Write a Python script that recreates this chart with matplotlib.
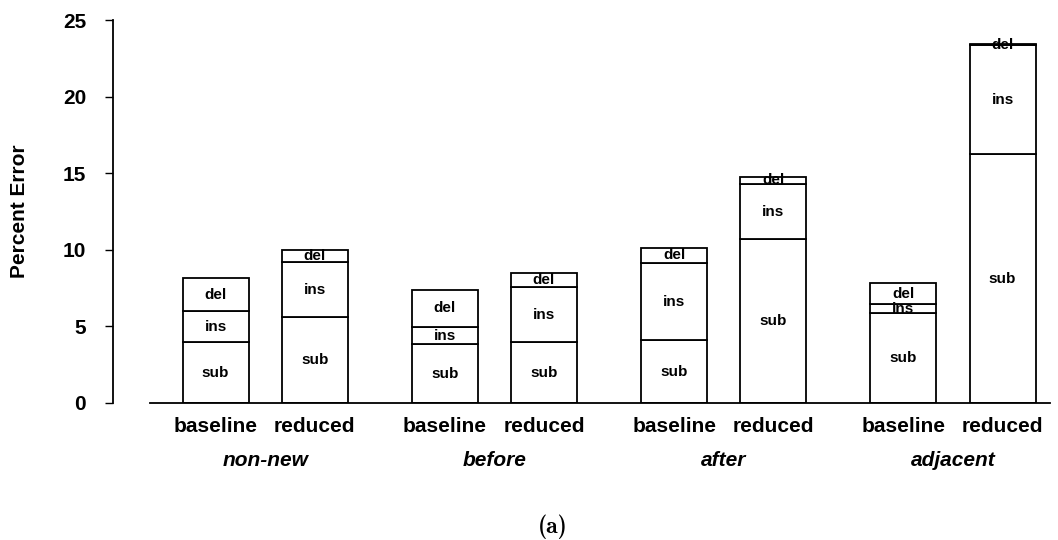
import numpy as np
import matplotlib
matplotlib.use("Agg")
import matplotlib.pyplot as plt
import matplotlib.transforms as mtransforms

plt.rcParams['font.family'] = ['Liberation Sans', 'DejaVu Sans']

# --- data ---
groups = ['non-new', 'before', 'after', 'adjacent']
systems = ['baseline', 'reduced']
segments = ['sub', 'ins', 'del']

sub_base = [3.95, 3.85, 4.10, 5.85]
ins_base = [2.05, 1.10, 5.05, 0.62]
del_base = [2.15, 2.45, 1.00, 1.35]

sub_red = [5.60, 3.95, 10.70, 16.25]
ins_red = [3.60, 3.60, 3.60, 7.10]
del_red = [0.80, 0.92, 0.47, 0.10]

yticks = [0, 5, 10, 15, 20, 25]

# --- layout ---
fig = plt.figure(figsize=(10.58, 5.40), dpi=100)
ax = fig.add_axes([150 / 1058, 1 - 403 / 540, 900 / 1058, 383 / 540])

x = np.arange(len(groups))
offset = 0.216
width = 0.288

series = {
    'baseline': [sub_base, ins_base, del_base],
    'reduced': [sub_red, ins_red, del_red],
}

positions = []
for k, name in enumerate(systems):
    xs = x + (-offset if k == 0 else offset)
    positions.extend(xs)
    bottom = np.zeros(len(groups))
    for seg, vals in zip(segments, series[name]):
        vals = np.array(vals)
        ax.bar(xs, vals, width, bottom=bottom, facecolor='white',
               edgecolor='black', linewidth=1.3, zorder=2)
        for xi, b, v in zip(xs, bottom, vals):
            ax.text(xi, b + v / 2, seg, ha='center', va='center',
                    fontsize=11, fontweight='bold', zorder=3)
        bottom = bottom + vals

ax.set_xlim(-0.502, 3.423)
ax.set_ylim(0, 25)

ax.spines['top'].set_visible(False)
ax.spines['right'].set_visible(False)
ax.spines['left'].set_position(('outward', 27))
ax.spines['left'].set_linewidth(1.3)
ax.spines['bottom'].set_linewidth(1.3)

ax.set_yticks(yticks)
ax.tick_params(axis='y', direction='out', length=6, width=1.0, pad=13,
               labelsize=15)
for lab in ax.get_yticklabels():
    lab.set_fontweight('bold')

ax.set_xticks(sorted(positions))
xt_labels = []
for i in range(len(groups)):
    xt_labels += systems
ax.set_xticklabels(xt_labels, fontsize=15, fontweight='bold')
ax.tick_params(axis='x', length=0, pad=10)

trans = mtransforms.blended_transform_factory(ax.transData, ax.transAxes)
for xi, g in zip(x, groups):
    ax.text(xi, -57 / 383, g, transform=trans, ha='center', va='center',
            fontsize=15, fontweight='bold', fontstyle='italic')

ax.set_ylabel('Percent Error', fontsize=15, fontweight='bold')
ax.yaxis.set_label_coords(-0.134, 0.5)

fig.text(553 / 1058, 1 - 527 / 540, '(a)', ha='center', va='center',
         fontsize=17, family='cmb10')

fig.savefig('out.png', dpi=100)
